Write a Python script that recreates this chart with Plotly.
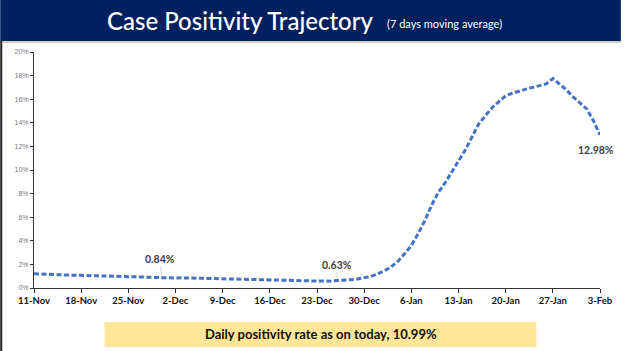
import plotly.graph_objects as go
import pandas as pd

start_date = "2020-11-11"
end_date = "2021-02-03"
positivity = [
    1.20, 1.17, 1.14, 1.12, 1.10, 1.09, 1.08,
    1.07, 1.06, 1.05, 1.04, 1.03, 1.02, 1.01,
    1.00, 0.98, 0.96, 0.93, 0.90, 0.87, 0.84,
    0.85, 0.86, 0.85, 0.84, 0.82, 0.80, 0.80,
    0.79, 0.79, 0.78, 0.77, 0.75, 0.73, 0.72,
    0.70, 0.68, 0.67, 0.66, 0.64, 0.62, 0.60,
    0.58, 0.57, 0.58, 0.63, 0.65, 0.70, 0.76,
    0.85, 0.98, 1.20, 1.45, 1.80, 2.25, 2.90,
    3.60, 4.60, 5.70, 7.00, 8.10, 8.90, 9.80,
    10.70, 11.70, 12.80, 13.90, 14.60, 15.30, 15.80,
    16.30, 16.50, 16.70, 16.85, 17.00, 17.15, 17.30,
    17.75, 17.30, 16.80, 16.20, 15.70, 15.20, 14.20,
    12.98,
]
dates = pd.date_range(start_date, end_date, freq="D")
tick_dates = pd.date_range(start_date, end_date, freq="7D")
tick_labels = [f"{d.day}-{d.strftime('%b')}" for d in tick_dates]
y_ticks = list(range(0, 21, 2))
y_tick_labels = [f"{v}%" for v in y_ticks]

callouts = [("2020-11-30", 0.84, "0.84%"), ("2020-12-26", 0.63, "0.63%")]
end_label = ("2021-02-03", 12.98, "12.98%")

W, H = 625, 351
L, R, T, B = 34, 21, 52, 63
pw, ph = W - L - R, H - T - B

def px(x):
    return (x - L) / pw

def py(y):
    return (H - B - y) / ph

fig = go.Figure()
fig.add_trace(go.Scatter(
    x=dates, y=positivity, mode="lines",
    line=dict(color="#4472C4", width=3, dash="5px,2.5px"),
    hoverinfo="skip", showlegend=False,
))

shapes = [
    dict(type="rect", xref="paper", yref="paper", x0=px(0), x1=px(W), y0=py(0), y1=py(41),
         fillcolor="#002060", line=dict(width=0), layer="below"),
    dict(type="line", xref="paper", yref="paper", x0=px(0), x1=px(W), y0=py(42), y1=py(42),
         line=dict(color="#9a9a9a", width=1)),
    dict(type="line", xref="paper", yref="paper", x0=px(1), x1=px(1), y0=py(41), y1=py(H),
         line=dict(color="#222222", width=2)),
    dict(type="rect", xref="paper", yref="paper", x0=px(105), x1=px(540), y0=py(322), y1=py(347),
         fillcolor="#FFE699", line=dict(width=0), layer="below"),
]

annotations = [
    dict(xref="paper", yref="paper", x=px(378), y=py(21), text="Case Positivity Trajectory",
         showarrow=False, xanchor="right", yanchor="middle",
         font=dict(family="Lato", size=24, color="white", weight=500)),
    dict(xref="paper", yref="paper", x=px(387), y=py(23), text="(7 days moving average)",
         showarrow=False, xanchor="left", yanchor="middle",
         font=dict(family="Lato", size=11, color="white")),
    dict(xref="paper", yref="paper", x=px(323), y=py(334),
         text="<b>Daily positivity rate as on today, 10.99%</b>",
         showarrow=False, xanchor="center", yanchor="middle",
         font=dict(family="Lato", size=13, color="#111111")),
    dict(x=end_label[0], y=end_label[1], xref="x", yref="y", text=f"<b>{end_label[2]}</b>",
         showarrow=False, xanchor="center", yanchor="middle", xshift=-4, yshift=-15,
         font=dict(family="Lato", size=10.5, color="#404040")),
]
offsets = [(-2, -19), (0, -16)]
for (d, v, t), (ax, ay) in zip(callouts, offsets):
    annotations.append(dict(x=d, y=v, xref="x", yref="y", text=f"<b>{t}</b>",
                            showarrow=True, arrowhead=0, arrowwidth=0.6, arrowcolor="#9bbb9b",
                            ax=ax, ay=ay, standoff=2,
                            font=dict(family="Lato", size=10.5, color="#404040")))

fig.update_layout(
    width=W, height=H,
    margin=dict(l=L, r=R, t=T, b=B),
    paper_bgcolor="white", plot_bgcolor="white",
    shapes=shapes, annotations=annotations,
    xaxis=dict(range=[dates[0], dates[-1]], tickvals=tick_dates, ticktext=tick_labels,
               showgrid=False, showline=True, linecolor="#333333", linewidth=1,
               ticks="outside", ticklen=4, tickcolor="#333333",
               tickfont=dict(family="Lato", size=9.5, color="#111111", weight="bold"),
               zeroline=False, fixedrange=True),
    yaxis=dict(range=[0, 20], tickvals=y_ticks, ticktext=y_tick_labels,
               showgrid=False, showline=True, linecolor="#333333", linewidth=1,
               ticks="outside", ticklen=3, tickcolor="#333333",
               tickfont=dict(family="Liberation Sans", size=7, color="#777777"),
               zeroline=False, fixedrange=True),
)

fig.write_html("out.html")
